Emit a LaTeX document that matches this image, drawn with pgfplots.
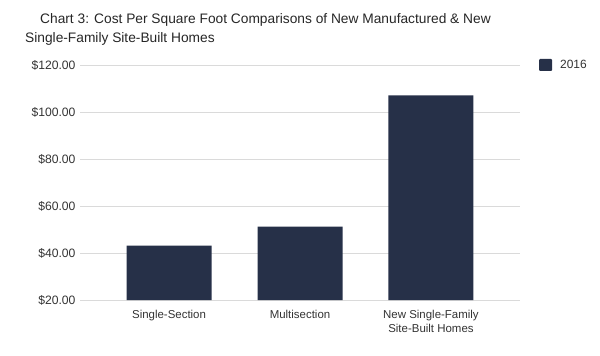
\documentclass[border=0pt]{standalone}
\usepackage{pgfplots}
\pgfplotsset{compat=1.18}
\usepackage{fontspec}
\setmainfont{Liberation Sans}
\definecolor{barc}{HTML}{263048}
\definecolor{gridc}{HTML}{DADADA}
\definecolor{txt}{HTML}{333333}
\begin{document}
\begin{tikzpicture}[x=1bp,y=1bp]
\path (0,0) rectangle (600,355);
\node[anchor=base west,font=\fontsize{13.8}{16}\selectfont,text=black!85,inner sep=0] at (40,355-23.5) {Chart 3: Cost Per Square Foot Comparisons of New Manufactured \& New};
\node[anchor=base west,font=\fontsize{13.8}{16}\selectfont,text=black!85,inner sep=0] at (25,355-42.7) {Single-Family Site-Built Homes};
\begin{axis}[
  at={(80bp,55bp)}, anchor=south west,
  width=440bp, height=235bp, scale only axis,
  xmin=-0.68, xmax=2.68,
  ymin=20, ymax=120,
  ytick={20,40,60,80,100,120},
  yticklabels={\$20.00,\$40.00,\$60.00,\$80.00,\$100.00,\$120.00},
  xtick={0,1,2},
  xticklabels={Single-Section,Multisection,{New Single-Family\\Site-Built Homes}},
  xticklabel style={align=center,font=\fontsize{11.5}{14}\selectfont,text=txt,yshift=-7bp},
  yticklabel style={font=\fontsize{12.2}{14}\selectfont,text=txt,xshift=-1bp},
  axis line style={draw=none},
  major tick length=0pt,
  ymajorgrids, grid style={gridc,line width=0.8pt},
  ybar, bar width=85bp,
  bar shift=0pt,
  clip=false,
  legend style={at={(rel axis cs:1.043,1)},anchor=west,draw=none,fill=none,font=\fontsize{12}{14}\selectfont,text=txt,inner sep=0pt,
    legend cell align=left, /tikz/every even column/.append style={column sep=0pt}},
  legend image code/.code={\fill[barc,rounded corners=1pt] (0bp,-6bp) rectangle (13bp,6bp);},
  legend style={nodes={inner xsep=8bp}},
]
\addplot[fill=barc,draw=none] coordinates {(0,43.1) (1,51.2) (2,107.1)};
\addlegendentry{2016}
\end{axis}
\end{tikzpicture}
\end{document}
